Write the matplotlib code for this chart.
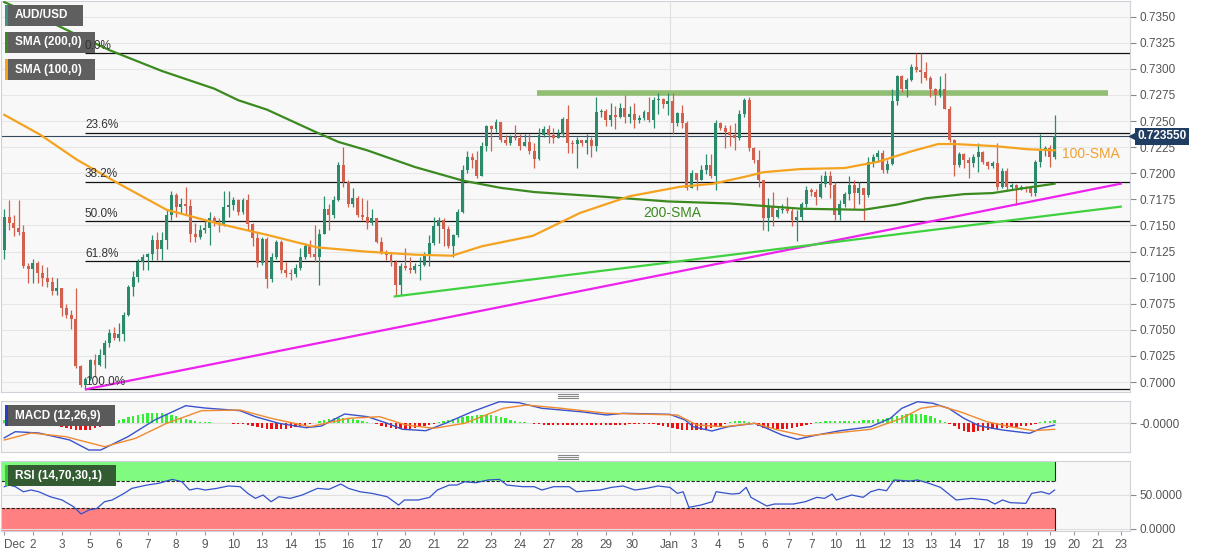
import numpy as np
import matplotlib.pyplot as plt
import matplotlib.transforms as mtransforms
from matplotlib.patches import Rectangle
from matplotlib.lines import Line2D

W, H = 1207, 555

# 4H candles, Dec 1 -> Jan 19 (index = candle number)
first_open = 0.7126
closes = [
    0.7158, 0.7152, 0.7148, 0.7144, 0.7111, 0.7108, 0.7114, 0.7104, 0.7100, 0.7096,
    0.7087, 0.7090, 0.7071, 0.7064, 0.7060, 0.7015, 0.6997, 0.7003, 0.7021, 0.7016,
    0.7026, 0.7037, 0.7047, 0.7042, 0.7046, 0.7064, 0.7091, 0.7101, 0.7115, 0.7120,
    0.7123, 0.7136, 0.7127, 0.7136, 0.7160, 0.7179, 0.7168, 0.7171, 0.7169, 0.7142,
    0.7139, 0.7146, 0.7148, 0.7157, 0.7152, 0.7150, 0.7168, 0.7170, 0.7174, 0.7163,
    0.7174, 0.7151, 0.7138, 0.7114, 0.7137, 0.7099, 0.7120, 0.7134, 0.7107, 0.7104,
    0.7103, 0.7109, 0.7120, 0.7130, 0.7123, 0.7120, 0.7142, 0.7166, 0.7160, 0.7174,
    0.7208, 0.7192, 0.7171, 0.7176, 0.7160, 0.7158, 0.7152, 0.7157, 0.7134, 0.7125,
    0.7122, 0.7115, 0.7093, 0.7111, 0.7109, 0.7107, 0.7111, 0.7112, 0.7122, 0.7133,
    0.7149, 0.7155, 0.7147, 0.7130, 0.7141, 0.7163, 0.7203, 0.7216, 0.7213, 0.7197,
    0.7226, 0.7245, 0.7242, 0.7249, 0.7232, 0.7229, 0.7235, 0.7234, 0.7226, 0.7230,
    0.7221, 0.7214, 0.7237, 0.7242, 0.7237, 0.7234, 0.7238, 0.7252, 0.7229, 0.7228,
    0.7232, 0.7229, 0.7232, 0.7226, 0.7259, 0.7260, 0.7251, 0.7256, 0.7254, 0.7263,
    0.7254, 0.7257, 0.7251, 0.7253, 0.7259, 0.7251, 0.7270, 0.7271, 0.7266, 0.7269,
    0.7248, 0.7258, 0.7248, 0.7186, 0.7200, 0.7194, 0.7203, 0.7208, 0.7197, 0.7248,
    0.7243, 0.7240, 0.7237, 0.7234, 0.7257, 0.7270, 0.7224, 0.7213, 0.7194, 0.7157,
    0.7168, 0.7158, 0.7165, 0.7166, 0.7164, 0.7155, 0.7158, 0.7171, 0.7184, 0.7182,
    0.7177, 0.7190, 0.7197, 0.7189, 0.7160, 0.7171, 0.7180, 0.7189, 0.7181, 0.7186,
    0.7179, 0.7211, 0.7216, 0.7219, 0.7203, 0.7209, 0.7269, 0.7293, 0.7281, 0.7289,
    0.7302, 0.7299, 0.7297, 0.7291, 0.7281, 0.7275, 0.7281, 0.7262, 0.7232, 0.7208,
    0.7218, 0.7213, 0.7210, 0.7216, 0.7220, 0.7211, 0.7207, 0.7210, 0.7187, 0.7202,
    0.7187, 0.7189, 0.7186, 0.7187, 0.7186, 0.7181, 0.7211, 0.7221, 0.7224, 0.7216,
    0.72355]
highs = [
    0.7166, 0.7174, 0.7160, 0.7174, 0.7150, 0.7114, 0.7118, 0.7116, 0.7112, 0.7110,
    0.7101, 0.7100, 0.7090, 0.7075, 0.7069, 0.7090, 0.7016, 0.7005, 0.7022, 0.7027,
    0.7032, 0.7040, 0.7051, 0.7053, 0.7057, 0.7067, 0.7093, 0.7106, 0.7118, 0.7123,
    0.7124, 0.7141, 0.7144, 0.7144, 0.7165, 0.7183, 0.7181, 0.7176, 0.7187, 0.7175,
    0.7152, 0.7150, 0.7154, 0.7163, 0.7159, 0.7157, 0.7183, 0.7183, 0.7177, 0.7175,
    0.7176, 0.7180, 0.7152, 0.7144, 0.7139, 0.7139, 0.7124, 0.7136, 0.7136, 0.7115,
    0.7108, 0.7113, 0.7128, 0.7133, 0.7136, 0.7150, 0.7147, 0.7178, 0.7171, 0.7178,
    0.7211, 0.7225, 0.7194, 0.7186, 0.7178, 0.7176, 0.7174, 0.7166, 0.7152, 0.7139,
    0.7126, 0.7125, 0.7117, 0.7114, 0.7128, 0.7120, 0.7114, 0.7120, 0.7125, 0.7141,
    0.7158, 0.7158, 0.7157, 0.7149, 0.7142, 0.7166, 0.7208, 0.7221, 0.7219, 0.7221,
    0.7230, 0.7246, 0.7246, 0.7252, 0.7249, 0.7237, 0.7237, 0.7246, 0.7238, 0.7238,
    0.7238, 0.7229, 0.7243, 0.7245, 0.7246, 0.7243, 0.7242, 0.7254, 0.7265, 0.7232,
    0.7235, 0.7232, 0.7238, 0.7235, 0.7273, 0.7262, 0.7262, 0.7267, 0.7264, 0.7267,
    0.7275, 0.7264, 0.7267, 0.7256, 0.7261, 0.7273, 0.7273, 0.7277, 0.7272, 0.7277,
    0.7277, 0.7259, 0.7265, 0.7250, 0.7203, 0.7198, 0.7208, 0.7218, 0.7218, 0.7251,
    0.7249, 0.7246, 0.7246, 0.7248, 0.7261, 0.7272, 0.7273, 0.7225, 0.7222, 0.7190,
    0.7176, 0.7182, 0.7168, 0.7171, 0.7177, 0.7167, 0.7165, 0.7172, 0.7188, 0.7186,
    0.7185, 0.7198, 0.7202, 0.7202, 0.7192, 0.7174, 0.7182, 0.7197, 0.7194, 0.7192,
    0.7184, 0.7216, 0.7218, 0.7222, 0.7222, 0.7213, 0.7281, 0.7294, 0.7294, 0.7291,
    0.7305, 0.7315, 0.7315, 0.7307, 0.7293, 0.7282, 0.7293, 0.7296, 0.7264, 0.7233,
    0.7220, 0.7219, 0.7216, 0.7218, 0.7229, 0.7221, 0.7212, 0.7212, 0.7229, 0.7205,
    0.7205, 0.7191, 0.7190, 0.7189, 0.7188, 0.7187, 0.7213, 0.7238, 0.7226, 0.7227,
    0.7256]
lows = [
    0.7118, 0.7146, 0.7140, 0.7141, 0.7109, 0.7095, 0.7095, 0.7095, 0.7092, 0.7091,
    0.7083, 0.7083, 0.7063, 0.7061, 0.7051, 0.7013, 0.6995, 0.6993, 0.7002, 0.7005,
    0.7015, 0.7013, 0.7034, 0.7040, 0.7039, 0.7039, 0.7063, 0.7082, 0.7096, 0.7107,
    0.7107, 0.7117, 0.7117, 0.7117, 0.7127, 0.7155, 0.7158, 0.7162, 0.7160, 0.7134,
    0.7134, 0.7137, 0.7143, 0.7131, 0.7149, 0.7144, 0.7149, 0.7158, 0.7165, 0.7160,
    0.7161, 0.7146, 0.7130, 0.7110, 0.7112, 0.7090, 0.7096, 0.7118, 0.7104, 0.7101,
    0.7098, 0.7101, 0.7107, 0.7118, 0.7120, 0.7115, 0.7093, 0.7144, 0.7146, 0.7157,
    0.7173, 0.7187, 0.7168, 0.7168, 0.7158, 0.7155, 0.7147, 0.7150, 0.7133, 0.7123,
    0.7117, 0.7111, 0.7082, 0.7083, 0.7107, 0.7104, 0.7104, 0.7098, 0.7111, 0.7111,
    0.7131, 0.7133, 0.7130, 0.7128, 0.7120, 0.7139, 0.7162, 0.7200, 0.7205, 0.7195,
    0.7203, 0.7221, 0.7221, 0.7240, 0.7230, 0.7227, 0.7227, 0.7232, 0.7222, 0.7226,
    0.7218, 0.7205, 0.7213, 0.7235, 0.7229, 0.7229, 0.7234, 0.7235, 0.7219, 0.7219,
    0.7205, 0.7226, 0.7218, 0.7216, 0.7221, 0.7254, 0.7245, 0.7245, 0.7242, 0.7253,
    0.7248, 0.7248, 0.7243, 0.7248, 0.7251, 0.7249, 0.7243, 0.7257, 0.7263, 0.7256,
    0.7238, 0.7245, 0.7243, 0.7184, 0.7187, 0.7184, 0.7194, 0.7199, 0.7195, 0.7184,
    0.7241, 0.7224, 0.7226, 0.7222, 0.7232, 0.7254, 0.7221, 0.7210, 0.7187, 0.7146,
    0.7145, 0.7149, 0.7157, 0.7162, 0.7162, 0.7149, 0.7135, 0.7155, 0.7168, 0.7178,
    0.7170, 0.7176, 0.7187, 0.7176, 0.7155, 0.7155, 0.7168, 0.7174, 0.7166, 0.7171,
    0.7155, 0.7177, 0.7206, 0.7211, 0.7200, 0.7200, 0.7208, 0.7265, 0.7278, 0.7273,
    0.7288, 0.7297, 0.7286, 0.7289, 0.7273, 0.7265, 0.7273, 0.7262, 0.7230, 0.7197,
    0.7206, 0.7205, 0.7195, 0.7206, 0.7201, 0.7209, 0.7204, 0.7205, 0.7184, 0.7186,
    0.7184, 0.7185, 0.7170, 0.7184, 0.7182, 0.7178, 0.7178, 0.7206, 0.7217, 0.7206,
    0.7214]

# moving averages (candle index, price)
sma200_idx = [0, 10, 22, 33, 44, 49, 55, 65, 70, 76, 86, 96, 104, 111, 124, 139, 152,
              167, 180, 187, 193, 201, 207, 214, 220]
sma200_val = [0.7364, 0.7344, 0.7318, 0.7298, 0.7281, 0.7270, 0.7261, 0.7240, 0.7230,
              0.7222, 0.7206, 0.7193, 0.7186, 0.7182, 0.7178, 0.7173, 0.7171, 0.7166,
              0.7165, 0.7170, 0.7176, 0.7180, 0.7181, 0.7186, 0.7190]
sma100_idx = [0, 7.5, 15.2, 23.6, 34, 44.6, 55, 65.5, 75.6, 86, 93.8, 100, 110.7, 120.6,
              131, 141.5, 148.5, 155.5, 159, 166.7, 176, 183, 190, 195.6, 199, 207.5,
              214.4, 220]
sma100_val = [0.7256, 0.7237, 0.7213, 0.7191, 0.7165, 0.7152, 0.7141, 0.7129, 0.7125,
              0.7122, 0.7121, 0.7130, 0.7140, 0.7162, 0.7178, 0.7187, 0.7190, 0.7197,
              0.7201, 0.7204, 0.7205, 0.7211, 0.7221, 0.7228, 0.7228, 0.7226, 0.7223,
              0.7222]

# fibonacci retracement anchors
fib_high, fib_low, fib_start = 0.7315, 0.6993, 16.9
fib_ratios = [0.0, 0.236, 0.382, 0.5, 0.618, 1.0]

resist_price, resist_from, resist_to = 0.7277, 111.6, 231.1
magenta_line = ([17.1, 233.85], [0.6993, 0.7190])
green_line = ([81.8, 233.85], [0.7082, 0.7168])
last_price = 0.72355

# MACD (values in pips of 0.0001)
macd_idx = [0, 2.3, 7.2, 13.7, 17.7, 20.2, 25.9, 31.5, 38, 42, 49.4, 52.6, 57.5, 63.2,
            66.4, 71.3, 76.1, 80.2, 83.4, 88.3, 92.4, 98, 103.7, 107.8, 112.6, 120.7,
            126.2, 129.6, 139.4, 142.6, 144.3, 148.2, 151.6, 157.2, 159.7, 162.9, 166.1,
            170.2, 175.1, 181.5, 185.6, 188, 191.3, 194.5, 197.8, 201, 204.3, 209.1,
            214.8, 217.2, 220]
macd_val = [-14.5, -8.4, -9.7, -16.7, -26.7, -26.7, -13.4, 3.3, 17.6, 15.3, 12.6, 6.6,
            0, -4.4, -2.7, 9.3, 6.6, 0, -6, -7.4, 0, 11.6, 21.6, 20.6, 15, 11.6, 8.3,
            10, 9, 3.3, -3.4, -7.7, -3.4, 0, -5, -11.7, -16, -11.7, -7.4, -3.4, 5, 15,
            21.6, 20, 15, 5, -2.7, -6.7, -10, -5, -1.7]
signal_idx = [0, 5.6, 12.9, 21, 27.5, 34, 41.3, 49.4, 55.9, 64, 72.1, 78.6, 84.2, 90,
              96.4, 104.5, 109.4, 116.7, 126.2, 141, 145.1, 150.7, 157.2, 162.1, 167.8,
              173.4, 181.5, 188, 192, 195.8, 200.2, 205.8, 210.7, 215.6, 220]
signal_val = [-16.7, -9.7, -13.4, -23.4, -15, 0, 12.6, 13.3, 5, -3.4, 5, 6.6, -1.7, -5,
              0, 15, 18.3, 15, 10, 8.3, -1.7, -3.4, 0, -6.7, -12.7, -10, -6, 5, 15,
              17.6, 11.6, 1.6, -3.4, -7.4, -6]
hist = [
    3, 4, 4, 3, 2, 1, 0.5, 0.3, -0.5, -1,
    -2, -3, -4, -5, -6, -6.5, -7, -7, -6.5, -5,
    -4, -2.5, -1, 1.5, 3, 4.5, 6, 7.5, 8.5, 9.5,
    10.5, 10.7, 10.5, 10, 9.5, 8.5, 7, 5.5, 4, 3,
    2, 1.5, 1, 1, 0.5, 0.5, 0.3, 0.3, -0.3, -0.3,
    -1, -2, -3, -4, -5, -5.5, -6, -6, -6, -5.5,
    -5, -4, -3, -2, -1, 0.5, 2, 3.5, 4.5, 5.5,
    5.7, 5.5, 5, 4, 3, 2, 1, 0.3, -1, -2.5,
    -4, -5, -6, -6, -6, -5.5, -5, -4, -3, -1.5,
    -0.5, 1, 2, 3, 4, 5, 6, 7, 7.5, 8,
    8.3, 8.3, 8, 7.5, 6.5, 5, 3.5, 2.5, 1.5, 1,
    0.5, -0.5, -1, -1.5, -1.5, -1.7, -1.7, -1.5, -1.5, -1.5,
    -1.5, -1.5, -1.5, -1.5, -1.5, -1.5, -1.5, -1.5, -1.5, -1.5,
    -1.2, -1, -1, -0.8, -0.8, -0.8, -1, -1.5, -2.5, -4,
    -5, -6, -6.5, -6.7, -6.7, -6.7, -6.5, -6, -5, -4,
    -2.5, -1, 1, 2, 2.7, 2, 1, -1, -3, -4.5,
    -5.5, -6, -6, -6, -5.5, -5, -4, -3, -1.5, -0.5,
    1, 1.5, 2, 2, 2, 2, 2, 2.5, 2.5, 2.5,
    3, 3, 3.5, 4, 4.5, 5, 6, 7.5, 8.5, 9,
    9.3, 9.3, 9, 8.5, 7, 5, 3, 1, -1, -3,
    -6, -7.5, -8.3, -8.3, -8, -7.5, -7, -6, -5.5, -5,
    -4.5, -4, -3.5, -3, -2.5, -2, -1, 1, 2, 2.5,
    3]

# RSI (14)
rsi_idx = [0, 1, 2.3, 4, 5.6, 7.2, 9.6, 12.1, 14.5, 16.1,
           17.7, 19.4, 21, 22.6, 25.1, 26.7, 29.9, 32.3, 35.2, 37.2,
           38.8, 40.4, 42.1, 44.5, 46.9, 49.4, 51, 52.6, 54.2, 55.9,
           57.5, 59.9, 62.4, 65.6, 68, 70.5, 72.1, 74.5, 77, 80.2,
           82.6, 83.8, 86.7, 89.1, 90.7, 93.2, 94.8, 96.4, 98.8, 101.3,
           103.7, 105.3, 108.6, 111, 112.6, 115.1, 118.3, 119.9, 122.4, 124.8,
           127.2, 129.6, 132.1, 134.5, 136.9, 139.4, 141, 142.2, 143.4, 145.9,
           148.3, 149.1, 152.4, 154, 155.4, 156.4, 159.7, 161.3, 165.3, 167.8,
           170.2, 171.8, 173.4, 174.3, 177.5, 179.9, 181.5, 183.2, 184.8, 186.4,
           189.7, 191.3, 193.7, 196.1, 199.4, 202.6, 205.9, 207.5, 209.1, 210.7,
           214, 215.2, 217.2, 218.9, 220]
rsi_val = [61.7, 64.1, 61.7, 54.3, 56.8, 54.3, 47.0, 42.2, 32.4, 21.7,
           27.5, 29.9, 39.7, 42.2, 51.9, 59.2, 64.1, 66.6, 72.4, 68.9,
           56.8, 59.2, 56.8, 59.2, 62.7, 61.7, 51.9, 44.6, 49.5, 39.7,
           47.0, 44.6, 49.5, 59.2, 57.8, 65.6, 59.2, 54.3, 51.9, 47.0,
           34.8, 42.2, 42.2, 46.1, 56.8, 64.1, 64.1, 68.9, 67.5, 71.5,
           72.4, 64.1, 61.7, 61.7, 56.8, 61.7, 61.7, 54.3, 55.8, 56.8,
           60.7, 62.7, 56.8, 59.2, 62.7, 60.7, 51.9, 54.3, 31.4, 34.8,
           39.7, 54.3, 50.9, 51.9, 60.7, 46.1, 33.4, 36.3, 36.3, 39.7,
           46.1, 44.6, 50.9, 42.2, 49.5, 46.1, 54.3, 57.8, 55.8, 71.5,
           70.0, 71.5, 66.6, 60.7, 42.2, 44.6, 42.2, 36.3, 42.2, 38.3,
           37.3, 51.9, 54.3, 50.9, 56.8]

tick_pos = [0, 6, 12, 18, 24, 30, 36, 42, 48, 54, 60, 66, 72, 78, 84, 90, 96, 102,
            108, 114, 120, 126, 131.5, 139.4, 144.4, 149.4, 154.3, 159.3, 164.3,
            169.2, 174.2, 179.2, 184.3, 189.3, 194.1, 199.1, 204.2, 209.2, 214.2,
            219, 224.1, 229.1, 234]
tick_lab = ["Dec", "2", "3", "5", "6", "7", "8", "9", "10", "13", "14", "15", "16",
            "17", "20", "21", "22", "23", "24", "27", "28", "29", "30", "Jan", "3",
            "4", "5", "6", "7", "7", "10", "11", "12", "13", "13", "14", "17", "18",
            "19", "19", "20", "21", "23"]
jan_pos = 139.4

plt.rcParams['font.family'] = ['Liberation Sans', 'DejaVu Sans']

def rect(x0, y0, x1, y1):
    return [x0 / W, 1 - y1 / H, (x1 - x0) / W, (y1 - y0) / H]

fig = plt.figure(figsize=(W / 100, H / 100), dpi=100)
fig.patch.set_facecolor("white")

ax = fig.add_axes(rect(1, 1, 1130, 392))
ax_m = fig.add_axes(rect(1, 401, 1130, 452), sharex=ax)
ax_r = fig.add_axes(rect(1, 461, 1130, 531), sharex=ax)

xmin, xmax = -0.69, 235.8
bg = "#f8f8f8"
spine_col = "#cfd3d9"
for a in (ax, ax_m, ax_r):
    a.set_facecolor(bg)
    a.set_xlim(xmin, xmax)
    a.yaxis.tick_right()
    a.tick_params(axis="y", colors="#888", labelcolor="#555", labelsize=8.5,
                  length=4, width=0.8, pad=2.5)
    for s in a.spines.values():
        s.set_color(spine_col)
        s.set_linewidth(0.8)
    a.axvline(jan_pos, color="#e0e0e0", lw=0.8, zorder=0)

# ---- price panel
ax.set_ylim(0.699042, 0.736504)
ax.set_yticks(np.arange(0.7000, 0.73501, 0.0025))
ax.yaxis.set_major_formatter(plt.FormatStrFormatter("%.4f"))
ax.grid(axis="y", color="#e6e6e6", lw=0.8, zorder=0)
ax.tick_params(axis="x", bottom=False, labelbottom=False)

o = np.array([first_open] + closes[:-1])
c = np.array(closes)
h = np.maximum(np.array(highs), np.maximum(o, c))
l = np.minimum(np.array(lows), np.minimum(o, c))
idx = np.arange(len(c))
cols = np.where(c >= o, "#2b8a6c", "#d3604c")
ax.vlines(idx, l, h, color=cols, lw=0.9, zorder=3)
ax.bar(idx, np.maximum(np.abs(c - o), 0.00008), bottom=np.minimum(o, c), width=0.62,
       color=cols, lw=0, zorder=4)

ax.plot(sma200_idx, sma200_val, color="#3b8a1f", lw=1.6, zorder=5)
ax.plot(sma100_idx, sma100_val, color="#f5a21f", lw=1.6, zorder=5)

for r in fib_ratios:
    lvl = fib_high - r * (fib_high - fib_low)
    ax.hlines(lvl, fib_start, xmax, color="#111", lw=0.9, zorder=2)
    fig.text(fib_start, lvl + 0.00012, f"{r * 100:.1f}%", transform=ax.transData,
             ha="left", va="bottom", fontsize=8.5, color="#333", zorder=25)

ax.hlines(resist_price, resist_from, resist_to, color="#8cbb6c", lw=4, alpha=0.95,
          zorder=2)
ax.plot(*magenta_line, color="#ee22ee", lw=1.6, zorder=5)
ax.plot(*green_line, color="#3fd13f", lw=1.6, zorder=5)
ax.axhline(last_price, color="#34495e", lw=0.8, zorder=2)

ax.text(221.6, 0.72185, "100-SMA", color="#f0a030", fontsize=10, ha="left",
        va="center", zorder=6)
ax.text(139.9, 0.7162, "200-SMA", color="#3b8a1f", fontsize=10, ha="center",
        va="center", zorder=6)

trans = mtransforms.blended_transform_factory(ax.transAxes, ax.transData)
ax.plot([1.002], [last_price], marker="<", ms=5, color="#1f3d60", transform=trans,
        clip_on=False, zorder=10)
ax.text(1.0065, last_price, "0.723550", transform=trans, ha="left", va="center",
        color="white", fontsize=8.5, fontweight="bold", clip_on=False, zorder=11,
        bbox=dict(boxstyle="square,pad=0.22", fc="#1f3d60", ec="none"))

# ---- MACD panel
s = 1e-4
ax_m.set_ylim(-28.7 * s, 22.3 * s)
ax_m.set_yticks([0])
ax_m.set_yticklabels(["-0.0000"])
ax_m.grid(axis="y", color="#e0e0e0", lw=0.8, zorder=0)
ax_m.tick_params(axis="x", bottom=False, labelbottom=False)
hv = np.array(hist) * s
ax_m.bar(idx, hv, width=0.5, color=np.where(hv >= 0, "#33ee33", "#ee1111"), lw=0,
         zorder=2)
ax_m.plot(macd_idx, np.array(macd_val) * s, color="#3a52cc", lw=1.0, zorder=3)
ax_m.plot(signal_idx, np.array(signal_val) * s, color="#f08a30", lw=1.0, zorder=3)

# ---- RSI panel
ax_r.set_ylim(-3.2, 99.3)
ax_r.set_yticks([0, 50])
ax_r.set_yticklabels(["0.0000", "50.0000"])
ax_r.grid(axis="y", color="#e0e0e0", lw=0.8, zorder=0)
last_i = len(c) - 1
ax_r.fill_between([xmin, last_i], 70, 100, color="#80fb80", lw=0, zorder=1)
ax_r.fill_between([xmin, last_i], -5, 30, color="#ff8080", lw=0, zorder=1)
ax_r.hlines([70, 30], xmin, last_i, color="#222", lw=0.8, linestyles=(0, (3, 1.5)),
            zorder=2)
ax_r.vlines(last_i, 70, 100, color="#222", lw=0.8, zorder=2)
ax_r.vlines(last_i, -5, 30, color="#222", lw=0.8, zorder=2)
ax_r.plot(rsi_idx, rsi_val, color="#3352cc", lw=0.9, zorder=3)

ax_r.set_xticks(tick_pos)
ax_r.set_xticklabels(tick_lab)
ax_r.tick_params(axis="x", colors="#999", labelcolor="#555", labelsize=8.5, length=3,
                 width=0.8, pad=3)
ax_r.get_xticklabels()[0].set_ha("left")

# ---- label boxes (pixel positions)
def label_box(x0, y0, x1, y1, text, fc, stripe):
    fig.add_artist(Rectangle((x0 / W, 1 - y1 / H), (x1 - x0) / W, (y1 - y0) / H,
                             transform=fig.transFigure, fc=fc, ec="none", zorder=20))
    fig.add_artist(Rectangle((x0 / W, 1 - y1 / H), 2.5 / W, (y1 - y0) / H,
                             transform=fig.transFigure, fc=stripe, ec="none", zorder=21))
    fig.text((x0 + 10) / W, 1 - (y0 + y1) / 2 / H, text, color="white", fontsize=8.5,
             fontweight="bold", ha="left", va="center", zorder=22)

label_box(5, 5, 83, 26, "AUD/USD", "#5f5f5f", "#3d8f8a")
label_box(5, 32, 95, 53, "SMA (200,0)", "#5f5f5f", "#3b8a1f")
label_box(5, 59, 95, 80, "SMA (100,0)", "#5f5f5f", "#f5a21f")
label_box(5, 405, 115, 426, "MACD (12,26,9)", "#5a5a5a", "#2a3fbf")
label_box(5, 465, 116, 486, "RSI (14,70,30,1)", "#335c33", "#33cc33")

# panel separators
for yc in (396, 457):
    for dy in (-2, 0, 2):
        fig.add_artist(Line2D([558 / W, 578 / W], [1 - (yc + dy) / H] * 2,
                              transform=fig.transFigure, color="#888", lw=0.8))

fig.savefig("out.png", dpi=100)
